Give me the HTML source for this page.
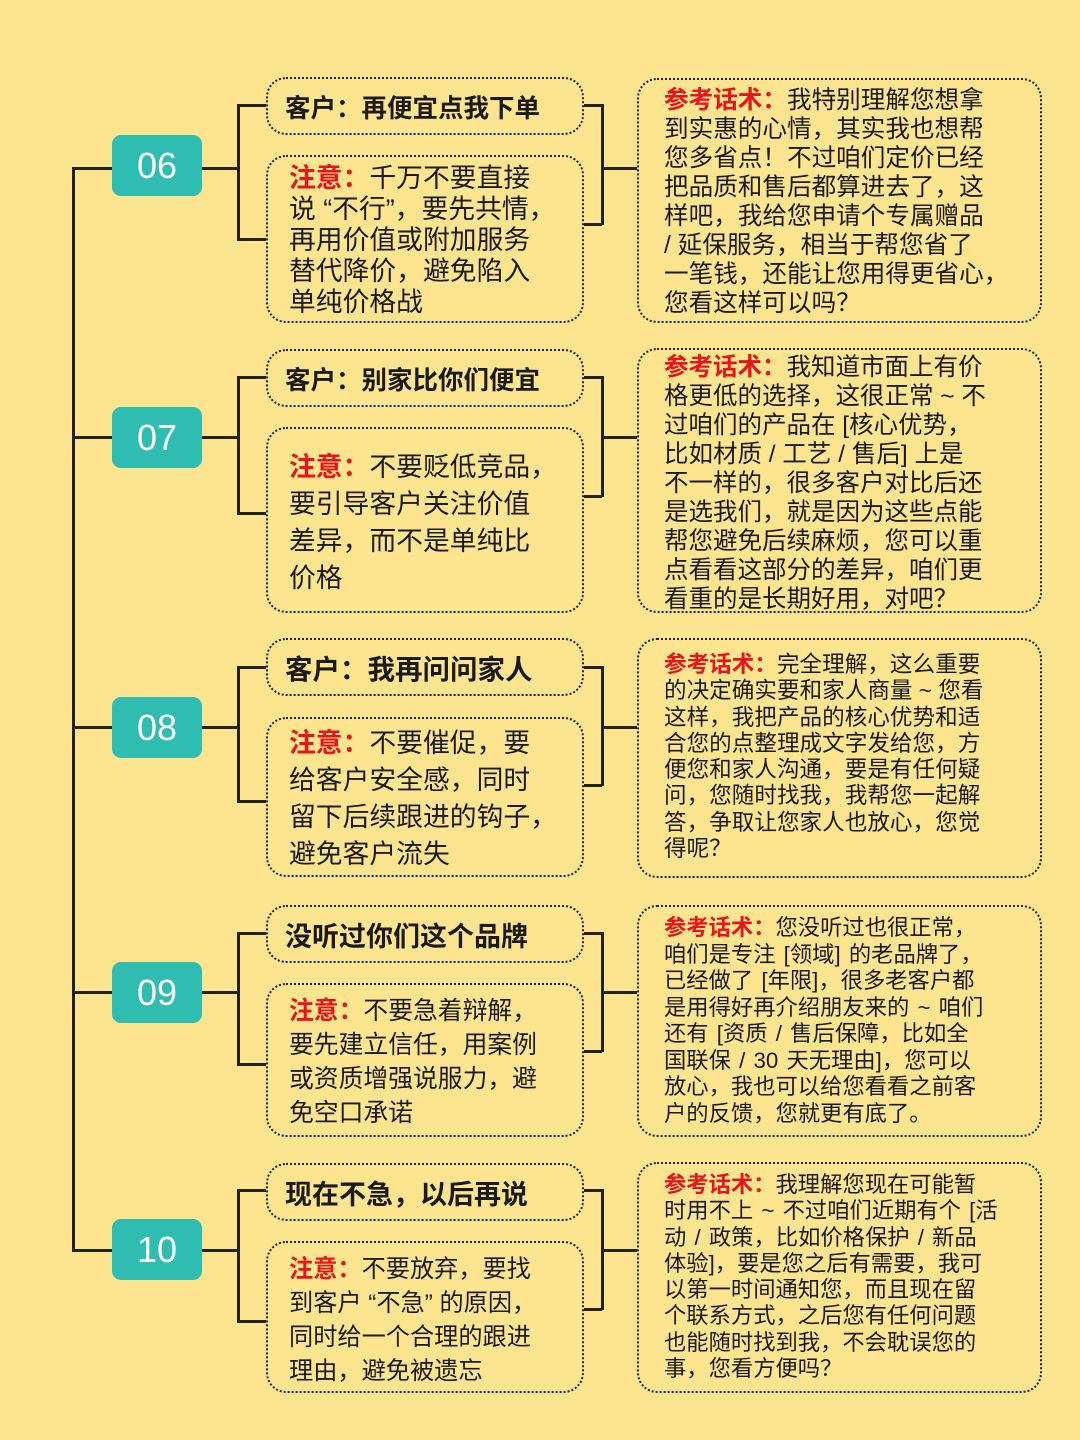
<!DOCTYPE html>
<html><head><meta charset="utf-8"><style>
*{margin:0;padding:0;box-sizing:border-box}
body{width:1080px;height:1440px;background:#fde590;position:relative;overflow:hidden;font-family:"Liberation Sans","Noto Sans CJK SC",sans-serif;color:#1a1a1a}
.b{position:absolute;border:2.5px dotted #222;border-radius:20px;white-space:nowrap}
.num{position:absolute;left:112px;width:90px;height:61px;background:#2ebdb0;border-radius:9px;color:#fff;font-size:36px;text-align:center;line-height:61px}
.cl{font-weight:bold;font-size:25.5px;padding-left:17px;display:flex;align-items:center}
.r{color:#e8141a;font-weight:bold}
.l{position:absolute;background:#222}
.nt{padding:6px 0 0 21px}
.sc{padding:6px 0 0 25px}
</style></head><body>
<div class="l" style="left:72px;top:168px;width:2.5px;height:1084px"></div>

<!-- 06 -->
<div class="l" style="left:72px;top:167px;width:40px;height:2.5px"></div>
<div class="num" style="top:135px">06</div>
<div class="l" style="left:202px;top:167px;width:36px;height:2.5px"></div>
<div class="l" style="left:237px;top:104px;width:2.5px;height:136px;border-radius:2px"></div>
<div class="l" style="left:237px;top:104px;width:29px;height:2.5px"></div>
<div class="l" style="left:237px;top:238px;width:29px;height:2.5px"></div>
<div class="b cl" style="left:266px;top:77px;width:318px;height:58px">客户：再便宜点我下单</div>
<div class="b nt" style="left:266px;top:155px;width:318px;height:168px;font-size:26.8px;line-height:31px"><span class="r">注意：</span>千万不要直接<br>说 “不行”，要先共情，<br>再用价值或附加服务<br>替代降价，避免陷入<br>单纯价格战</div>
<div class="l" style="left:584px;top:104px;width:18px;height:2.5px"></div>
<div class="l" style="left:601px;top:104px;width:2.5px;height:121px"></div>
<div class="l" style="left:584px;top:223px;width:18px;height:2.5px"></div>
<div class="l" style="left:601px;top:167px;width:36px;height:2.5px"></div>
<div class="b sc" style="left:637px;top:78px;width:405px;height:245px;font-size:24.6px;line-height:29px"><span class="r">参考话术：</span>我特别理解您想拿<br>到实惠的心情，其实我也想帮<br>您多省点！不过咱们定价已经<br>把品质和售后都算进去了，这<br>样吧，我给您申请个专属赠品<br>/ 延保服务，相当于帮您省了<br>一笔钱，还能让您用得更省心，<br>您看这样可以吗？</div>

<!-- 07 -->
<div class="l" style="left:72px;top:436px;width:40px;height:2.5px"></div>
<div class="num" style="top:407px">07</div>
<div class="l" style="left:202px;top:436px;width:36px;height:2.5px"></div>
<div class="l" style="left:237px;top:376px;width:2.5px;height:138px"></div>
<div class="l" style="left:237px;top:376px;width:29px;height:2.5px"></div>
<div class="l" style="left:237px;top:512px;width:29px;height:2.5px"></div>
<div class="b cl" style="left:266px;top:349px;width:318px;height:58px">客户：别家比你们便宜</div>
<div class="b nt" style="left:266px;top:427px;width:318px;height:186px;font-size:26.8px;line-height:37px;padding-top:20px"><span class="r">注意：</span>不要贬低竞品，<br>要引导客户关注价值<br>差异，而不是单纯比<br>价格</div>
<div class="l" style="left:584px;top:376px;width:18px;height:2.5px"></div>
<div class="l" style="left:601px;top:376px;width:2.5px;height:121px"></div>
<div class="l" style="left:584px;top:495px;width:18px;height:2.5px"></div>
<div class="l" style="left:601px;top:436px;width:36px;height:2.5px"></div>
<div class="b sc" style="left:637px;top:348px;width:405px;height:265px;font-size:24.5px;line-height:29px;padding-top:3px"><span class="r">参考话术：</span>我知道市面上有价<br>格更低的选择，这很正常 ~ 不<br>过咱们的产品在 [核心优势，<br>比如材质 / 工艺 / 售后] 上是<br>不一样的，很多客户对比后还<br>是选我们，就是因为这些点能<br>帮您避免后续麻烦，您可以重<br>点看看这部分的差异，咱们更<br>看重的是长期好用，对吧？</div>

<!-- 08 -->
<div class="l" style="left:72px;top:726px;width:40px;height:2.5px"></div>
<div class="num" style="top:697px">08</div>
<div class="l" style="left:202px;top:726px;width:36px;height:2.5px"></div>
<div class="l" style="left:237px;top:666px;width:2.5px;height:136px"></div>
<div class="l" style="left:237px;top:666px;width:29px;height:2.5px"></div>
<div class="l" style="left:237px;top:800px;width:29px;height:2.5px"></div>
<div class="b cl" style="left:266px;top:638px;width:318px;height:58px;font-size:27.5px">客户：我再问问家人</div>
<div class="b nt" style="left:266px;top:717px;width:318px;height:160px;font-size:26.8px;line-height:37px;padding-top:6px"><span class="r">注意：</span>不要催促，要<br>给客户安全感，同时<br>留下后续跟进的钩子，<br>避免客户流失</div>
<div class="l" style="left:584px;top:666px;width:18px;height:2.5px"></div>
<div class="l" style="left:601px;top:666px;width:2.5px;height:120px"></div>
<div class="l" style="left:584px;top:784px;width:18px;height:2.5px"></div>
<div class="l" style="left:601px;top:726px;width:36px;height:2.5px"></div>
<div class="b sc" style="left:637px;top:638px;width:405px;height:240px;font-size:22.6px;line-height:26.3px;padding-top:12px"><span class="r">参考话术：</span>完全理解，这么重要<br>的决定确实要和家人商量 ~ 您看<br>这样，我把产品的核心优势和适<br>合您的点整理成文字发给您，方<br>便您和家人沟通，要是有任何疑<br>问，您随时找我，我帮您一起解<br>答，争取让您家人也放心，您觉<br>得呢？</div>

<!-- 09 -->
<div class="l" style="left:72px;top:991px;width:40px;height:2.5px"></div>
<div class="num" style="top:962px">09</div>
<div class="l" style="left:202px;top:991px;width:36px;height:2.5px"></div>
<div class="l" style="left:237px;top:932px;width:2.5px;height:133px"></div>
<div class="l" style="left:237px;top:932px;width:29px;height:2.5px"></div>
<div class="l" style="left:237px;top:1063px;width:29px;height:2.5px"></div>
<div class="b cl" style="left:266px;top:905px;width:318px;height:58px;font-size:27px">没听过你们这个品牌</div>
<div class="b nt" style="left:266px;top:983px;width:318px;height:154px;font-size:24.8px;line-height:34px;padding-top:10px"><span class="r">注意：</span>不要急着辩解，<br>要先建立信任，用案例<br>或资质增强说服力，避<br>免空口承诺</div>
<div class="l" style="left:584px;top:932px;width:18px;height:2.5px"></div>
<div class="l" style="left:601px;top:932px;width:2.5px;height:120px"></div>
<div class="l" style="left:584px;top:1050px;width:18px;height:2.5px"></div>
<div class="l" style="left:601px;top:991px;width:36px;height:2.5px"></div>
<div class="b sc" style="left:637px;top:905px;width:405px;height:232px;font-size:22.3px;line-height:26.5px;padding-top:8px;word-spacing:2px"><span class="r">参考话术：</span>您没听过也很正常，<br>咱们是专注 [领域] 的老品牌了，<br>已经做了 [年限]，很多老客户都<br>是用得好再介绍朋友来的 ~ 咱们<br>还有 [资质 / 售后保障，比如全<br>国联保 / 30 天无理由]，您可以<br>放心，我也可以给您看看之前客<br>户的反馈，您就更有底了。</div>

<!-- 10 -->
<div class="l" style="left:72px;top:1249px;width:40px;height:2.5px"></div>
<div class="num" style="top:1219px">10</div>
<div class="l" style="left:202px;top:1249px;width:36px;height:2.5px"></div>
<div class="l" style="left:237px;top:1189px;width:2.5px;height:133px"></div>
<div class="l" style="left:237px;top:1189px;width:29px;height:2.5px"></div>
<div class="l" style="left:237px;top:1320px;width:29px;height:2.5px"></div>
<div class="b cl" style="left:266px;top:1163px;width:318px;height:58px;font-size:27px">现在不急，以后再说</div>
<div class="b nt" style="left:266px;top:1241px;width:318px;height:152px;font-size:24.2px;line-height:34px;padding-top:10px"><span class="r">注意：</span>不要放弃，要找<br>到客户 “不急” 的原因，<br>同时给一个合理的跟进<br>理由，避免被遗忘</div>
<div class="l" style="left:584px;top:1189px;width:18px;height:2.5px"></div>
<div class="l" style="left:601px;top:1189px;width:2.5px;height:121px"></div>
<div class="l" style="left:584px;top:1308px;width:18px;height:2.5px"></div>
<div class="l" style="left:601px;top:1249px;width:36px;height:2.5px"></div>
<div class="b sc" style="left:637px;top:1162px;width:405px;height:231px;font-size:22.3px;line-height:26.3px;padding-top:8px;word-spacing:2px"><span class="r">参考话术：</span>我理解您现在可能暂<br>时用不上 ~ 不过咱们近期有个 [活<br>动 / 政策，比如价格保护 / 新品<br>体验]，要是您之后有需要，我可<br>以第一时间通知您，而且现在留<br>个联系方式，之后您有任何问题<br>也能随时找到我，不会耽误您的<br>事，您看方便吗？</div>
</body></html>
